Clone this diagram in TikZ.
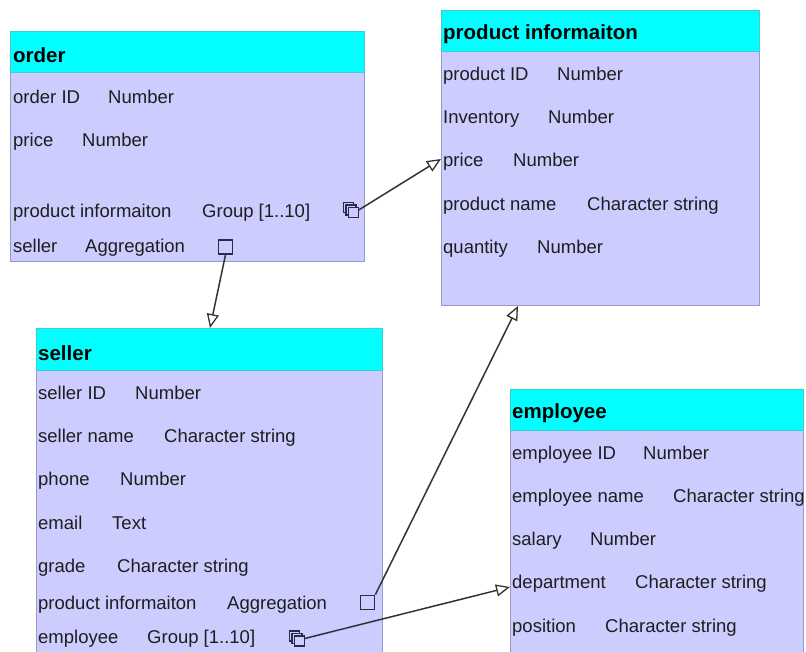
\documentclass[tikz,border=0pt]{standalone}
\usepackage{fontspec}
\setmainfont{Liberation Sans}
\usetikzlibrary{arrows.meta}
\definecolor{hdrfill}{HTML}{00FFFF}
\definecolor{hdrline}{HTML}{44CCCC}
\definecolor{bodyfill}{HTML}{CCCCFF}
\definecolor{bodyline}{HTML}{9999CC}
\definecolor{txt}{HTML}{1E1E1E}
\definecolor{iconc}{HTML}{2A2A4A}
\definecolor{connc}{HTML}{333333}
\begin{document}
\begin{tikzpicture}[x=1pt,y=-1pt,
  body/.style={draw=bodyline, fill=bodyfill, line width=1pt, anchor=north west, inner sep=0pt},
  hdr/.style={draw=hdrline, fill=hdrfill, line width=1pt, anchor=north west, inner sep=0pt},
  title/.style={anchor=base west, inner sep=0pt, font=\fontsize{20.5}{22}\selectfont\bfseries, text=black},
  fld/.style={anchor=base west, inner sep=0pt, font=\fontsize{18.5}{20}\selectfont, text=txt},
  agg/.style={draw=iconc, line width=1.7pt, minimum size=14pt, inner sep=0pt},
  grp/.style={minimum size=15pt, inner sep=0pt},
  grpsq/.style={draw=iconc, fill=bodyfill, line width=1.5pt},
  conn/.style={draw=connc, line width=1.5pt, -{Triangle[open, length=14pt, width=12pt, line width=1.3pt]}}]
\useasboundingbox (0,0) rectangle (806,651);
\clip (0,0) rectangle (806,651);
\fill[white] (0,0) rectangle (806,651);

% ---------- order ----------
\node[body, minimum width=354pt, minimum height=189pt] (obody) at (10,72) {};
\node[hdr, minimum width=354pt, minimum height=41pt] (ohdr) at (10,31) {};
\node[title] (ot) at (13,62) {order};
\node[fld] (o1n) at (13,103) {order ID};
\node[fld] (o1t) at (108,103) {Number};
\node[fld] (o2n) at (13,146) {price};
\node[fld] (o2t) at (82,146) {Number};
\node[fld] (o3n) at (13,217) {product informaiton};
\node[fld] (o3t) at (202,217) {Group [1..10]};
\node[fld] (o4n) at (13,252) {seller};
\node[fld] (o4t) at (85,252) {Aggregation};
\node[agg] (oagg) at (225.5,247) {};
\node[grp] (ogrp) at (351,210) {};

% ---------- product informaiton ----------
\node[body, minimum width=318pt, minimum height=254pt] (pbody) at (441,51) {};
\node[hdr, minimum width=318pt, minimum height=41pt] (phdr) at (441,10) {};
\node[title] (pt) at (443,39) {product informaiton};
\node[fld] (p1n) at (443,80) {product ID};
\node[fld] (p1t) at (557,80) {Number};
\node[fld] (p2n) at (443,123) {Inventory};
\node[fld] (p2t) at (548,123) {Number};
\node[fld] (p3n) at (443,166) {price};
\node[fld] (p3t) at (513,166) {Number};
\node[fld] (p4n) at (443,210) {product name};
\node[fld] (p4t) at (587,210) {Character string};
\node[fld] (p5n) at (443,253) {quantity};
\node[fld] (p5t) at (537,253) {Number};

% ---------- seller ----------
\node[body, minimum width=346pt, minimum height=284pt] (sbody) at (36,370) {};
\node[hdr, minimum width=346pt, minimum height=42pt] (shdr) at (36,328) {};
\node[title] (st) at (38,360) {seller};
\node[fld] (s1n) at (38,399) {seller ID};
\node[fld] (s1t) at (135,399) {Number};
\node[fld] (s2n) at (38,442) {seller name};
\node[fld] (s2t) at (164,442) {Character string};
\node[fld] (s3n) at (38,485) {phone};
\node[fld] (s3t) at (120,485) {Number};
\node[fld] (s4n) at (38,529) {email};
\node[fld] (s4t) at (112,529) {Text};
\node[fld] (s5n) at (38,572) {grade};
\node[fld] (s5t) at (117,572) {Character string};
\node[fld] (s6n) at (38,609) {product informaiton};
\node[fld] (s6t) at (227,609) {Aggregation};
\node[fld] (s7n) at (38,643) {employee};
\node[fld] (s7t) at (147,643) {Group [1..10]};
\node[agg] (sagg) at (367.5,602.5) {};
\node[grp] (sgrp) at (297,638.5) {};

% ---------- employee ----------
\node[body, minimum width=293pt, minimum height=225pt] (ebody) at (510,430) {};
\node[hdr, minimum width=293pt, minimum height=41pt] (ehdr) at (510,389) {};
\node[title] (et) at (512,418) {employee};
\node[fld] (e1n) at (512,459) {employee ID};
\node[fld] (e1t) at (643,459) {Number};
\node[fld] (e2n) at (512,502) {employee name};
\node[fld] (e2t) at (673,502) {Character string};
\node[fld] (e3n) at (512,545) {salary};
\node[fld] (e3t) at (590,545) {Number};
\node[fld] (e4n) at (512,588) {department};
\node[fld] (e4t) at (635,588) {Character string};
\node[fld] (e5n) at (512,632) {position};
\node[fld] (e5t) at (605,632) {Character string};

% group icons
\foreach \g in {ogrp,sgrp}{
  \foreach \d in {-2.5,0,2.5}{
    \draw[grpsq] ([shift={(\d-5,\d-5)}]\g.center) rectangle ++(10,10);
  }
}

% connector ends
\coordinate (pin) at (441,159);
\coordinate (sin) at (210,328);
\coordinate (pbot) at (518,306);
\coordinate (ein) at (510,587);

\draw[conn] (ogrp.east) -- (pin);
\draw[conn] (oagg.south) -- (sin);
\draw[conn] (sagg.north east) -- (pbot);
\draw[conn] (sgrp.east) -- (ein);
\end{tikzpicture}
\end{document}
